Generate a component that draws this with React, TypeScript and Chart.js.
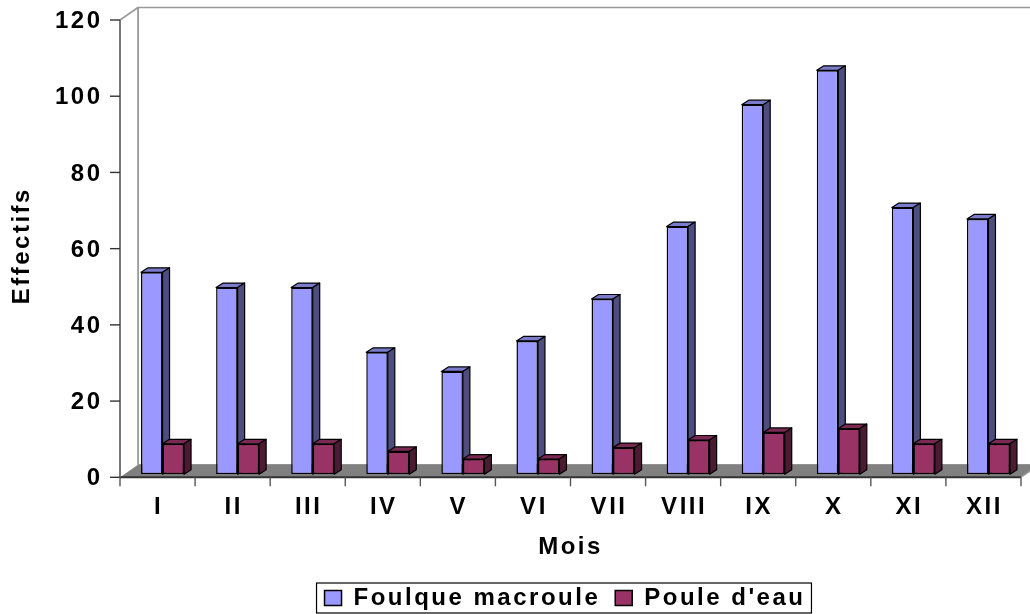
import React, { useEffect, useRef } from 'react';
import { Chart, registerables } from 'chart.js';

Chart.register(...registerables);

// ---- data ----
const months = ['I', 'II', 'III', 'IV', 'V', 'VI', 'VII', 'VIII', 'IX', 'X', 'XI', 'XII'];
const foulque = [53, 49, 49, 32, 27, 35, 46, 65, 97, 106, 70, 67];
const poule = [8, 8, 8, 6, 4, 4, 7, 9, 11, 12, 8, 8];
const seriesNames = ['Foulque macroule', "Poule d'eau"];
const yMin = 0;
const yMax = 120;
const yStep = 20;
const xTitle = 'Mois';
const yTitle = 'Effectifs';

// ---- style ----
const FONT = "'Liberation Sans', Arial, Helvetica, sans-serif";
const LETTER_SPACING = '2.5px';
const faceColors = [
  { front: '#9999FF', top: '#7B7BCC', side: '#4D4D80' },
  { front: '#993366', top: '#7A2952', side: '#4D1A33' },
];
const FRONT = { dx: -5, dy: 3 }; // axis plane relative to bar plane
const BACK = { dx: 13, dy: -9.5 }; // back wall relative to bar plane
const BAR_DEPTH = { dx: 7, dy: 4.5 };
const LEGEND_SHIFT = 52;

function poly(ctx: CanvasRenderingContext2D, pts: number[][], fill: string | null, stroke: string | null, lw = 1) {
  ctx.beginPath();
  ctx.moveTo(pts[0][0], pts[0][1]);
  for (let i = 1; i < pts.length; i++) ctx.lineTo(pts[i][0], pts[i][1]);
  ctx.closePath();
  if (fill) {
    ctx.fillStyle = fill;
    ctx.fill();
  }
  if (stroke) {
    ctx.strokeStyle = stroke;
    ctx.lineWidth = lw;
    ctx.stroke();
  }
}

function line(ctx: CanvasRenderingContext2D, x1: number, y1: number, x2: number, y2: number, color: string, lw: number) {
  ctx.beginPath();
  ctx.moveTo(x1, y1);
  ctx.lineTo(x2, y2);
  ctx.strokeStyle = color;
  ctx.lineWidth = lw;
  ctx.stroke();
}

function drawFaces(ctx: CanvasRenderingContext2D, el: any, colors: { top: string; side: string }) {
  const l = el.x - el.width / 2;
  const r = el.x + el.width / 2;
  const y = el.y;
  const b = el.base;
  const { dx, dy } = BAR_DEPTH;
  ctx.lineJoin = 'round';
  poly(ctx, [[l, y], [l + dx, y - dy], [r + dx, y - dy], [r, y]], colors.top, '#000', 1.2);
  poly(ctx, [[r, y], [r + dx, y - dy], [r + dx, b - dy], [r, b]], colors.side, '#000', 1.2);
}

const scene3d = {
  id: 'scene3d',
  beforeUpdate(chart: any) {
    chart.ctx.letterSpacing = LETTER_SPACING;
  },
  afterLayout(chart: any) {
    const lg = chart.legend;
    if (lg) {
      lg.left += LEGEND_SHIFT;
      lg.right += LEGEND_SHIFT;
    }
    // centre the x-axis title on the front (axis) plane rather than the bar plane
    const xs = chart.scales.x;
    if (xs) xs.left += 2 * FRONT.dx;
  },
  beforeDraw(chart: any) {
    chart.ctx.letterSpacing = LETTER_SPACING;
  },
  beforeDatasetsDraw(chart: any) {
    const ctx = chart.ctx as CanvasRenderingContext2D;
    const xs = chart.scales.x;
    const ys = chart.scales.y;
    const area = chart.chartArea;
    const L = area.left, R = area.right, T = area.top, B = area.bottom;
    ctx.save();
    ctx.lineJoin = 'miter';
    // back wall
    poly(ctx, [[L + BACK.dx, T + BACK.dy], [R + BACK.dx, T + BACK.dy], [R + BACK.dx, B + BACK.dy], [L + BACK.dx, B + BACK.dy]], '#ffffff', '#999999', 1.6);
    // left side wall
    poly(ctx, [[L + FRONT.dx, T + FRONT.dy], [L + BACK.dx, T + BACK.dy], [L + BACK.dx, B + BACK.dy], [L + FRONT.dx, B + FRONT.dy]], '#ffffff', null);
    line(ctx, L + FRONT.dx, T + FRONT.dy, L + BACK.dx, T + BACK.dy, '#999999', 1.6);
    line(ctx, L + BACK.dx, T + BACK.dy, L + BACK.dx, B + BACK.dy, '#999999', 1.6);
    // floor
    poly(ctx, [[L + FRONT.dx, B + FRONT.dy], [L + BACK.dx, B + BACK.dy], [R + BACK.dx, B + BACK.dy], [R + FRONT.dx, B + FRONT.dy]], '#808080', null);
    line(ctx, R + FRONT.dx, B + FRONT.dy, R + BACK.dx, B + BACK.dy, '#999999', 1.4);
    line(ctx, L + FRONT.dx, B + FRONT.dy, R + FRONT.dx, B + FRONT.dy, '#333333', 2);
    // y axis line + ticks
    line(ctx, L + FRONT.dx, T + FRONT.dy, L + FRONT.dx, B + FRONT.dy, '#555555', 1.6);
    ys.ticks.forEach((t: any) => {
      const py = ys.getPixelForValue(t.value) + FRONT.dy;
      line(ctx, L + FRONT.dx - 10, py, L + FRONT.dx, py, '#333333', 1.4);
    });
    // x ticks at category boundaries
    const half = (xs.getPixelForValue(1) - xs.getPixelForValue(0)) / 2;
    for (let i = 0; i <= months.length; i++) {
      const px = xs.getPixelForValue(i) - half + FRONT.dx;
      line(ctx, px, B + FRONT.dy, px, B + FRONT.dy + 9, '#555555', 1.4);
    }
    ctx.restore();
  },
  afterDatasetsDraw(chart: any) {
    const ctx = chart.ctx as CanvasRenderingContext2D;
    ctx.save();
    const m0 = chart.getDatasetMeta(0);
    const m1 = chart.getDatasetMeta(1);
    m0.data.forEach((el: any) => drawFaces(ctx, el, faceColors[0]));
    m1.data.forEach((el: any) => {
      el.draw(ctx);
      drawFaces(ctx, el, faceColors[1]);
    });
    ctx.restore();
  },
  afterDraw(chart: any) {
    const lg = chart.legend;
    if (!lg || !lg.legendHitBoxes || !lg.legendHitBoxes.length) return;
    const hb = lg.legendHitBoxes;
    const ctx = chart.ctx as CanvasRenderingContext2D;
    const left = hb[0].left - 8;
    const last = hb[hb.length - 1];
    const right = last.left + last.width + 6;
    const cy = hb[0].top + hb[0].height / 2;
    ctx.save();
    ctx.strokeStyle = '#000';
    ctx.lineWidth = 1.2;
    ctx.strokeRect(left, cy - 15, right - left, 30);
    ctx.restore();
  },
};

export default function App() {
  const ref = useRef<HTMLCanvasElement>(null);
  useEffect(() => {
    if (!ref.current) return;
    Chart.defaults.font.family = FONT;
    Chart.defaults.font.size = 24;
    Chart.defaults.font.weight = 'bold' as any;
    Chart.defaults.color = '#000';
    const chart = new Chart(ref.current, {
      type: 'bar',
      data: {
        labels: months,
        datasets: [
          {
            label: seriesNames[0],
            data: foulque,
            backgroundColor: faceColors[0].front,
            borderColor: '#000',
            borderWidth: 1.5,
            borderSkipped: false,
            categoryPercentage: 0.573,
            barPercentage: 1,
          },
          {
            label: seriesNames[1],
            data: poule,
            backgroundColor: faceColors[1].front,
            borderColor: '#000',
            borderWidth: 1.5,
            borderSkipped: false,
            categoryPercentage: 0.573,
            barPercentage: 1,
          },
        ],
      },
      options: {
        responsive: false,
        animation: false,
        events: [],
        layout: { padding: { top: 17, left: 0, right: 4, bottom: 0 } },
        plugins: {
          tooltip: { enabled: false },
          legend: {
            display: true,
            position: 'bottom',
            labels: {
              boxWidth: 17,
              boxHeight: 15,
              padding: 15,
              color: '#000',
              font: { size: 24, weight: 'bold', family: FONT },
            },
          },
        },
        scales: {
          x: {
            grid: { display: false, drawTicks: false },
            border: { display: false },
            ticks: {
              padding: 19,
              labelOffset: -4,
              autoSkip: false,
              maxRotation: 0,
              color: '#000',
              font: { size: 24, weight: 'bold', family: FONT },
            },
            title: {
              display: true,
              text: xTitle,
              color: '#000',
              font: { size: 24, weight: 'bold', family: FONT },
              padding: { top: 0, bottom: 9 },
            },
            afterFit: (s: any) => {
              s.height = 96.7;
              s.paddingLeft = 0;
              s.paddingRight = 0;
            },
          },
          y: {
            min: yMin,
            max: yMax,
            grid: { display: false, drawTicks: false },
            border: { display: false },
            ticks: {
              stepSize: yStep,
              padding: 22.5,
              labelOffset: 4.5,
              color: '#000',
              font: { size: 24, weight: 'bold', family: FONT },
            },
            title: {
              display: true,
              text: yTitle,
              color: '#000',
              font: { size: 24, weight: 'bold', family: FONT },
              padding: { top: 8, bottom: 0 },
            },
            afterFit: (s: any) => {
              s.width = 125;
              s.paddingTop = 0;
              s.paddingBottom = 0;
            },
          },
        },
      } as any,
      plugins: [scene3d as any],
    });
    return () => chart.destroy();
  }, []);
  return (
    <div style={{ position: 'fixed', left: 0, top: 0, width: 1030, height: 620, background: '#fff' }}>
      <canvas ref={ref} width={1030} height={620} style={{ display: 'block' }} />
    </div>
  );
}
